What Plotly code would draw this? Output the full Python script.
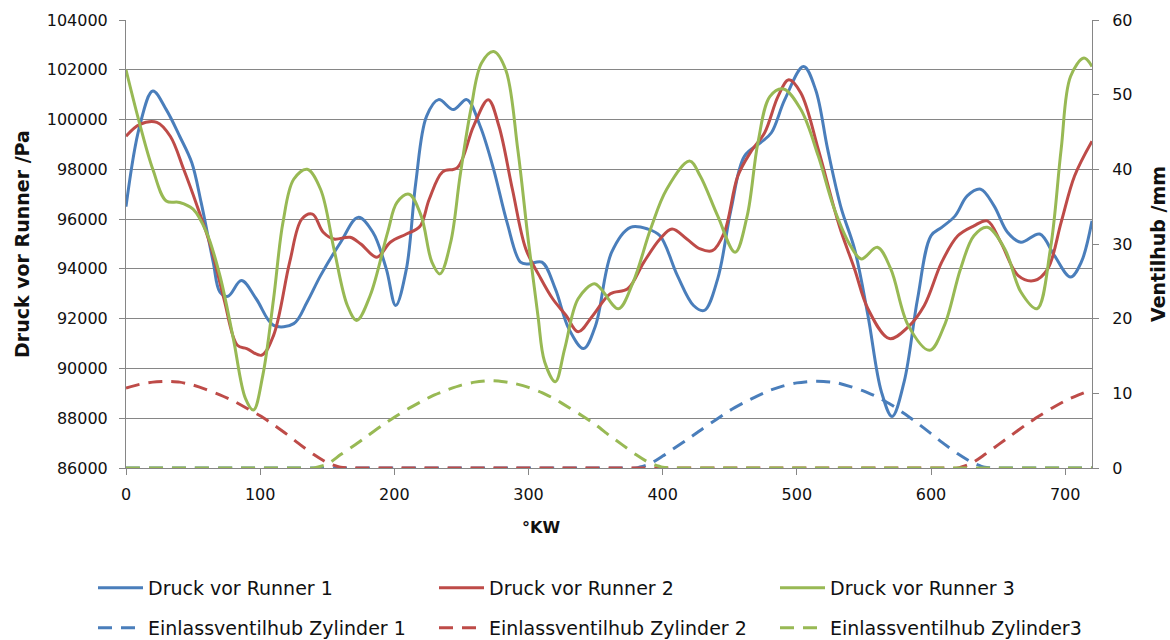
import plotly.graph_objects as go

# ---------------- data ----------------
# Druck vor Runner 1 (Pa)
r1_kw = [0, 10, 20, 30, 40, 49, 56, 65, 70, 76, 86, 97, 110, 125, 135, 145, 160, 173, 184, 194,
         201, 209, 216, 224, 233, 244, 254, 264, 274, 284, 294, 300, 310, 320, 330, 341, 350, 362,
         376, 389, 398, 411, 423, 431, 441, 451, 461, 473, 481, 491, 505, 514, 523, 533, 543, 553,
         563, 571, 580, 590, 600, 608, 618, 627, 637, 647, 657, 667, 681, 692, 704, 712, 720]
r1_pa = [96500, 99700, 101150, 100400, 99330, 98270, 96670, 94270, 93070, 92900, 93530, 92800,
         91730, 91800, 92670, 93730, 95070, 96070, 95470, 94000, 92530, 94000, 97470, 100130,
         100800, 100400, 100800, 99730, 98000, 95870, 94270, 94200, 94270, 93200, 91600, 90800,
         91730, 94670, 95670, 95600, 95330, 93730, 92530, 92330, 93600, 96400, 98530, 99070,
         99470, 100800, 102130, 101200, 98800, 96450, 94800, 92130, 89070, 88070, 89470, 92800,
         95330, 95670, 96130, 96930, 97200, 96530, 95470, 95070, 95400, 94530, 93670, 94270, 95930]

# Druck vor Runner 2 (Pa)
r2_kw = [0, 10, 23, 33, 43, 53, 63, 73, 83, 90, 101, 110, 122, 131, 139, 147, 155, 167, 175, 187,
         197, 209, 219, 226, 236, 247, 259, 270, 278, 288, 298, 308, 318, 328, 337, 348, 361, 374,
         386, 398, 407, 418, 428, 437, 446, 456, 466, 476, 486, 494, 503, 516, 528, 533, 543, 553,
         569, 583, 595, 608, 620, 632, 642, 652, 665, 677, 687, 697, 707, 720]
r2_pa = [99330, 99800, 99890, 99330, 98000, 96530, 94930, 92800, 90930, 90800, 90530, 91330,
         94270, 96000, 96200, 95470, 95200, 95270, 95000, 94470, 95070, 95400, 95700, 96800,
         97900, 98070, 99730, 100800, 99730, 97200, 94800, 93730, 92800, 92130, 91470, 92130,
         93000, 93200, 94270, 95200, 95600, 95200, 94800, 94730, 95470, 97730, 98730, 99470,
         100930, 101600, 101070, 98800, 96400, 95500, 94000, 92400, 91200, 91670, 92530, 94270,
         95330, 95730, 95930, 95070, 93730, 93530, 94000, 95870, 97730, 99130]

# Druck vor Runner 3 (Pa)
r3_kw = [0, 10, 20, 30, 40, 50, 60, 70, 80, 89, 95, 102, 110, 117, 125, 135, 145, 155, 165, 172,
         182, 195, 202, 211, 220, 228, 234, 242, 249, 257, 265, 274, 283, 292, 300, 307, 312, 320,
         327, 337, 349, 354, 367, 378, 391, 403, 420, 428, 441, 454, 463, 471, 480, 490, 503, 516,
         528, 540, 548, 560, 570, 583, 599, 610, 622, 632, 642, 655, 667, 679, 689, 697, 704, 714, 720]
r3_pa = [102000, 99870, 98000, 96730, 96670, 96400, 95470, 93730, 91200, 88800, 88330, 89730,
         92800, 95870, 97600, 98000, 97200, 94800, 92530, 91930, 92930, 95470, 96670, 97000,
         96130, 94270, 93800, 95070, 97730, 100400, 102270, 102730, 102000, 98800, 95070, 92130,
         90270, 89470, 90800, 92800, 93400, 93200, 92400, 93470, 95600, 97200, 98330, 97730,
         96130, 94670, 96130, 99070, 100930, 101230, 100400, 98530, 96400, 94930, 94400, 94870,
         94000, 91730, 90730, 91730, 94000, 95330, 95670, 94800, 93070, 92400, 94800, 98800,
         101730, 102470, 102130]

# Einlassventilhub (mm), every 10 °KW from 0 to 720
lift_kw = list(range(0, 721, 10))
lift_z1 = [0] * 38 + [0, 0.5, 1.6, 2.8, 4.0, 5.3, 6.5, 7.7, 8.7, 9.6, 10.4, 11.0, 11.4, 11.6, 11.6,
                      11.4, 10.9, 10.3, 9.5, 8.5, 7.3, 6.0, 4.6, 3.2, 1.9, 0.8, 0.1] + [0] * 8
lift_z2 = [10.7, 11.2, 11.5, 11.6, 11.5, 11.1, 10.5, 9.8, 9.0, 8.0, 7.0, 5.8, 4.5, 3.1, 1.8, 0.7,
           0.1] + [0] * 46 + [0.6, 1.8, 3.1, 4.4, 5.7, 6.9, 8.0, 9.0, 9.8, 10.5]
lift_z3 = [0] * 14 + [0, 0.5, 1.8, 3.0, 4.3, 5.6, 6.8, 7.9, 8.9, 9.8, 10.5, 11.1, 11.5, 11.7, 11.6,
                      11.3, 10.8, 10.1, 9.2, 8.1, 7.0, 5.8, 4.4, 3.1, 1.8, 0.7, 0.1] + [0] * 32

names_p = ["Druck vor Runner 1", "Druck vor Runner 2", "Druck vor Runner 3"]
names_l = ["Einlassventilhub Zylinder 1", "Einlassventilhub Zylinder 2", "Einlassventilhub Zylinder3"]
colors = ["#4A7EBB", "#BE4B48", "#98B954"]

# ---------------- figure ----------------
fig = go.Figure()
for kw, pa, nm, c in zip([r1_kw, r2_kw, r3_kw], [r1_pa, r2_pa, r3_pa], names_p, colors):
    fig.add_trace(go.Scatter(x=kw, y=pa, name=nm, mode="lines",
                             line=dict(color=c, width=3, shape="spline", smoothing=1.0),
                             legend="legend"))
for ly, nm, c in zip([lift_z1, lift_z2, lift_z3], names_l, colors):
    fig.add_trace(go.Scatter(x=lift_kw, y=ly, name=nm, mode="lines", yaxis="y2",
                             line=dict(color=c, width=3, dash="14px,9px", shape="spline", smoothing=0.6),
                             legend="legend2"))

grid = "#868686"
tickfont = dict(family="DejaVu Sans", size=16, color="#111111")
W, H = 1170, 640
ml, mr, mt, mb = 126, 78, 20, 172
pw, ph = W - ml - mr, H - mt - mb


def px_x(px):
    return (px - ml) / pw


def px_y(py):
    return (H - mb - py) / ph


legfont = dict(family="DejaVu Sans", size=19, color="#111111")

fig.update_layout(
    width=W, height=H,
    margin=dict(l=ml, r=mr, t=mt, b=mb, autoexpand=False),
    paper_bgcolor="white", plot_bgcolor="white",
    font=dict(family="DejaVu Sans", color="#111111"),
    xaxis=dict(range=[0, 720], dtick=100, tick0=0, showgrid=False, zeroline=False,
               showline=True, linecolor=grid, linewidth=1, ticks="outside", ticklen=6,
               tickcolor=grid, tickfont=tickfont, ticklabelstandoff=6),
    yaxis=dict(range=[86000, 104000], dtick=2000, tick0=86000, showgrid=True, gridcolor=grid,
               gridwidth=1, zeroline=False, showline=True, linecolor=grid, ticks="outside",
               ticklen=6, tickcolor=grid, tickfont=tickfont, tickformat="d",
               ticklabelstandoff=8),
    yaxis2=dict(range=[0, 60], dtick=10, tick0=0, overlaying="y", side="right", showgrid=False,
                zeroline=False, showline=True, linecolor=grid, ticks="outside", ticklen=6,
                tickcolor=grid, tickfont=tickfont, ticklabelstandoff=10),
    legend=dict(orientation="h", x=px_x(93), xanchor="left", y=px_y(588), yanchor="middle",
                entrywidth=281, entrywidthmode="pixels", itemwidth=45,
                font=legfont, bgcolor="rgba(0,0,0,0)"),
    legend2=dict(orientation="h", x=px_x(93), xanchor="left", y=px_y(628), yanchor="middle",
                 entrywidth=281, entrywidthmode="pixels", itemwidth=45,
                 font=legfont, bgcolor="rgba(0,0,0,0)"),
    annotations=[
        dict(text="<b>Druck vor Runner /Pa</b>", xref="paper", yref="paper", x=px_x(22),
             y=px_y(244), textangle=-90, showarrow=False, xanchor="center", yanchor="middle",
             font=dict(family="DejaVu Sans", size=19, color="#111111")),
        dict(text="<b>Ventilhub /mm</b>", xref="paper", yref="paper", x=px_x(1158),
             y=px_y(244), textangle=-90, showarrow=False, xanchor="center", yanchor="middle",
             font=dict(family="DejaVu Sans", size=19, color="#111111")),
        dict(text="<b>°KW</b>", xref="paper", yref="paper", x=px_x(541), y=px_y(527),
             showarrow=False, xanchor="center", yanchor="middle",
             font=dict(family="DejaVu Sans", size=16, color="#111111")),
    ],
)

fig.write_html("out.html", config={"displayModeBar": False},
               post_script="document.body.style.margin='0px';document.body.style.overflow='hidden';")
